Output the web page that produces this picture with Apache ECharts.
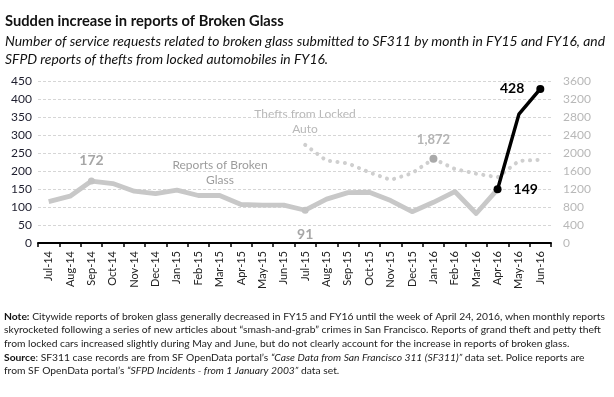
<!DOCTYPE html>
<html>
<head>
<meta charset="utf-8">
<script src="https://cdn.jsdelivr.net/npm/echarts@6/dist/echarts.min.js"></script>
<style>
  html, body { margin: 0; padding: 0; background: #fff; }
  #chart { width: 614px; height: 397px; }
</style>
</head>
<body>
<div id="chart"></div>
<script>
// months on the x axis
const months = ['Jul-14', 'Aug-14', 'Sep-14', 'Oct-14', 'Nov-14', 'Dec-14', 'Jan-15', 'Feb-15',
  'Mar-15', 'Apr-15', 'May-15', 'Jun-15', 'Jul-15', 'Aug-15', 'Sep-15', 'Oct-15', 'Nov-15',
  'Dec-15', 'Jan-16', 'Feb-16', 'Mar-16', 'Apr-16', 'May-16', 'Jun-16'];

// SF311 broken glass requests (left axis)
const brokenGlass = [115, 130, 172, 165, 144, 137, 147, 132, 132, 107, 105, 105,
  91, 122, 140, 141, 118, 87, 113, 143, 82, 149, 358, 428];

// SFPD thefts from locked auto (right axis), FY16 only
const thefts = [null, null, null, null, null, null, null, null, null, null, null, null,
  2180, 1830, 1770, 1570, 1400, 1550, 1872, 1645, 1540, 1460, 1825, 1850];

const leftTicks = { min: 0, max: 450, step: 50 };
const rightTicks = { min: 0, max: 3600, step: 400 };

const spikeStart = 21; // Apr-16, where the black segment begins
const font = 'Lato';

const chart = echarts.init(document.getElementById('chart'), null, { renderer: 'canvas' });

// gray part of the broken glass line
const grayData = brokenGlass.map((v, i) => {
  if (i > spikeStart) return null;
  const item = { value: v, symbol: 'none' };
  if (i === 2) {
    item.symbol = 'circle';
    item.label = { show: true, position: 'top', distance: 10 };
  }
  if (i === 12) {
    item.symbol = 'circle';
    item.label = { show: true, position: 'bottom', distance: 14 };
  }
  return item;
});

// black part (the spike)
const blackData = brokenGlass.map((v, i) => {
  if (i < spikeStart) return null;
  const item = { value: v, symbol: i === 22 ? 'none' : 'circle' };
  if (i === spikeStart) item.label = { show: true, position: 'right', distance: 12 };
  if (i === brokenGlass.length - 1) item.label = { show: true, position: 'left', distance: 12 };
  return item;
});

const theftData = thefts.map((v, i) => {
  if (v == null) return null;
  if (i === 18) {
    return { value: v, symbol: 'circle', label: { show: true, position: 'top', distance: 8 } };
  }
  return { value: v, symbol: 'none' };
});

const option = {
  animation: false,
  textStyle: { fontFamily: font },
  grid: { left: 38, right: 63, top: 81, bottom: 154, containLabel: false },
  xAxis: {
    type: 'category',
    data: months,
    axisLine: { lineStyle: { color: '#000', width: 2 } },
    axisTick: { show: true, length: 4, lineStyle: { color: '#000', width: 1.5 } },
    axisLabel: { rotate: 90, fontSize: 11, color: '#222', margin: 8, fontFamily: font },
    splitLine: { show: false }
  },
  yAxis: [
    {
      type: 'value',
      min: leftTicks.min, max: leftTicks.max, interval: leftTicks.step,
      axisLine: { show: false }, axisTick: { show: false },
      axisLabel: { fontSize: 12, color: '#1e1e2e', margin: 6, fontFamily: font },
      splitLine: { lineStyle: { color: '#d6d6d6', type: [3, 2], width: 1 } }
    },
    {
      type: 'value',
      min: rightTicks.min, max: rightTicks.max, interval: rightTicks.step,
      axisLine: { show: false }, axisTick: { show: false },
      axisLabel: { fontSize: 12, color: '#b8b8b8', margin: 12, fontFamily: font,
        formatter: v => String(v) },
      splitLine: { show: false }
    }
  ],
  series: [
    {
      name: 'Thefts from Locked Auto',
      type: 'line',
      yAxisIndex: 1,
      data: theftData,
      symbolSize: 8,
      itemStyle: { color: '#a9a9a9' },
      lineStyle: { color: '#cfcfcf', width: 4, type: [0.1, 7.4], cap: 'round' },
      label: { color: '#b4b4b4', fontSize: 13, fontWeight: 'bold', fontFamily: font,
        formatter: p => p.value.toLocaleString('en-US') },
      z: 1
    },
    {
      name: 'Reports of Broken Glass',
      type: 'line',
      data: grayData,
      symbolSize: 7,
      itemStyle: { color: '#c4c4c4' },
      lineStyle: { color: '#c8c8c8', width: 4.8, join: 'round' },
      label: { color: '#a6a6a6', fontSize: 14, fontWeight: 'bold', fontFamily: font },
      z: 2
    },
    {
      name: 'Spike',
      type: 'line',
      data: blackData,
      symbolSize: 8,
      itemStyle: { color: '#000' },
      lineStyle: { color: '#000', width: 3.5 },
      label: { color: '#000', fontSize: 14, fontWeight: 'bold', fontFamily: font },
      z: 3
    }
  ],
  graphic: [
    {
      type: 'text', left: 5, top: 14,
      style: { text: 'Sudden increase in reports of Broken Glass', font: 'bold 14.7px ' + font, fill: '#111' }
    },
    {
      type: 'text', left: 5, top: 32,
      style: {
        text: 'Number of service requests related to broken glass submitted to SF311 by month in FY15 and FY16, and\nSFPD reports of thefts from locked automobiles in FY16.',
        font: 'italic 13.9px ' + font, fill: '#111', lineHeight: 18.5
      }
    },
    {
      type: 'text', x: 220, y: 158,
      style: { text: 'Reports of Broken\nGlass', font: '12px ' + font, fill: '#9c9c9c', align: 'center', lineHeight: 15 }
    },
    {
      type: 'text', x: 305, y: 107,
      style: { text: 'Thefts from Locked\nAuto', font: '12px ' + font, fill: '#b8b8b8', align: 'center', lineHeight: 15 }
    },
    {
      type: 'text', left: 4, top: 310,
      style: {
        text: '{b|Note:} Citywide reports of broken glass generally decreased in FY15 and FY16 until the week of April 24, 2016, when monthly reports\nskyrocketed following a series of new articles about \u201csmash-and-grab\u201d crimes in San Francisco. Reports of grand theft and petty theft\nfrom locked cars increased slightly during May and June, but do not clearly account for the increase in reports of broken glass.',
        font: '10.3px ' + font, fill: '#222', lineHeight: 13.4,
        rich: { b: { fontWeight: 'bold', fontSize: 10.3, fontFamily: font, fill: '#111', lineHeight: 13.4 } }
      }
    },
    {
      type: 'text', left: 4, top: 350.5,
      style: {
        text: '{b|Source}: SF311 case records are from SF OpenData portal\u2019s {i|\u201cCase Data from San Francisco 311 (SF311)\u201d} data set. Police reports are\nfrom SF OpenData portal\u2019s {i|\u201cSFPD Incidents - from 1 January 2003\u201d} data set.',
        font: '10.3px ' + font, fill: '#222', lineHeight: 13.4,
        rich: {
          b: { fontWeight: 'bold', fontSize: 10.3, fontFamily: font, fill: '#111', lineHeight: 13.4 },
          i: { fontStyle: 'italic', fontSize: 10.3, fontFamily: font, fill: '#222', lineHeight: 13.4 }
        }
      }
    }
  ]
};

chart.setOption(option);
</script>
</body>
</html>
